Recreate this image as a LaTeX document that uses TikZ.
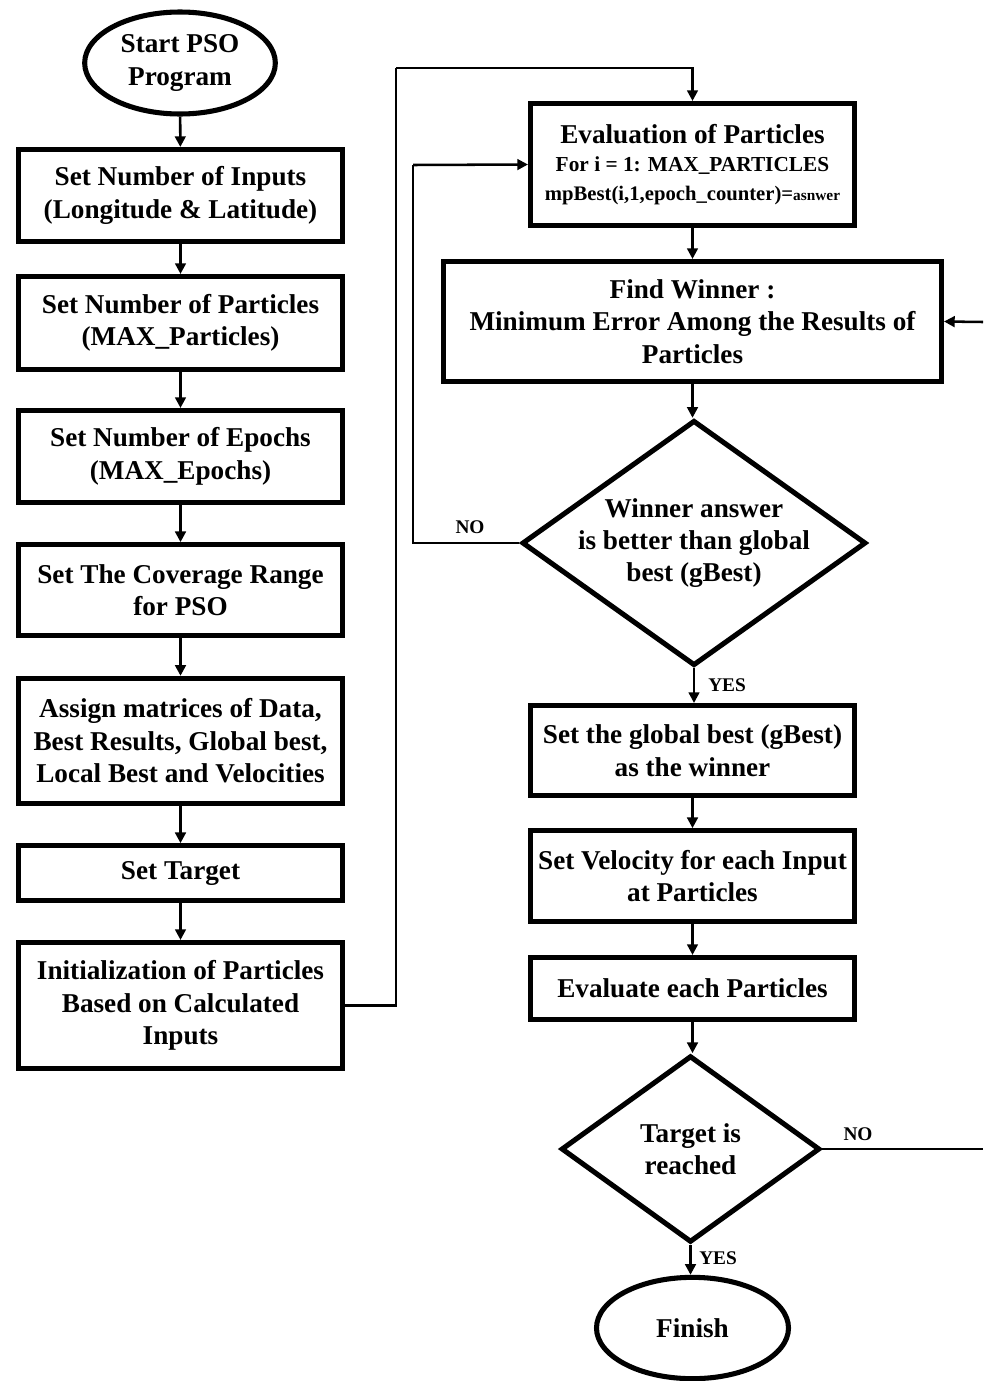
\documentclass[tikz,border=0pt]{standalone}
\usepackage{fontspec}
\setmainfont{Liberation Serif}
\usetikzlibrary{shapes.geometric,arrows.meta}
\begin{document}
\begin{tikzpicture}[x=0.75pt,y=-0.75pt,
  txt/.style={font=\fontsize{20.4}{24.3}\selectfont\bfseries,align=center},
  boxnode/.style={draw,line width=3.8pt,rectangle,txt,inner sep=2pt},
  oval/.style={draw,line width=3.8pt,ellipse,txt,inner sep=0pt},
  decide/.style={draw,line width=3.8pt,diamond,inner sep=0pt},
  arr/.style={line width=1.9pt,-{Triangle[length=8pt,width=8pt]}},
  ln/.style={line width=1.9pt},
  lbl/.style={font=\fontsize{14.5}{16}\selectfont\bfseries,inner sep=0pt}]
\useasboundingbox (0,0) rectangle (983,1381);
% left column
\node[oval,minimum width=143pt,minimum height=76.5pt] (start) at (180,63) {Start PSO\\Program};
\node[boxnode,minimum width=243pt,minimum height=69pt] (b1) at (180.5,195.5) {Set Number of Inputs\\(Longitude \& Latitude)};
\node[boxnode,minimum width=243pt,minimum height=69.75pt] (b2) at (180.5,323) {Set Number of Particles\\(MAX\_Particles)};
\node[boxnode,minimum width=243pt,minimum height=69pt] (b3) at (180.5,456.5) {Set Number of Epochs\\(MAX\_Epochs)};
\node[boxnode,minimum width=243pt,minimum height=68pt] (b4) at (180.5,590) {Set The Coverage Range\\for PSO};
\node[boxnode,minimum width=243pt,minimum height=94pt] (b5) at (180.5,741) {Assign matrices of Data,\\Best Results, Global best,\\Local Best and Velocities};
\node[boxnode,minimum width=243pt,minimum height=41pt] (b6) at (180.5,873) {Set Target};
\node[boxnode,minimum width=243pt,minimum height=94.5pt] (b7) at (180.5,1005.5) {Initialization of Particles\\Based on Calculated\\Inputs};
% right column
\node[boxnode,minimum width=243pt,minimum height=91.5pt] (eval) at (692.5,164.5) {Evaluation of Particles\\[-3pt]{\fontsize{16}{18}\selectfont For i = 1: MAX\_PARTICLES}\\[-3pt]{\fontsize{15.5}{18}\selectfont mpBest(i,1,epoch\_counter)={\fontsize{11.5}{13}\selectfont asnwer}}};
\node[boxnode,minimum width=373.5pt,minimum height=90pt] (find) at (692.5,321.5) {Find Winner :\\Minimum Error Among the Results of\\Particles};
\node[decide,minimum width=258pt,minimum height=184pt,label={[txt]center:Winner answer\\is better than global\\best (gBest)}] (d1) at (694,543) {};
\node[boxnode,minimum width=243pt,minimum height=67.5pt] (gb) at (692.5,750.5) {Set the global best (gBest)\\as the winner};
\node[boxnode,minimum width=243pt,minimum height=68pt] (vel) at (692.5,876) {Set Velocity for each Input\\at Particles};
\node[boxnode,minimum width=243pt,minimum height=46.5pt] (ev) at (692.5,988.5) {Evaluate each Particles};
\node[decide,minimum width=194pt,minimum height=140pt,label={[txt]center:Target is\\reached}] (d2) at (690.5,1149) {};
\node[oval,minimum width=144pt,minimum height=76pt] (fin) at (692.5,1328) {Finish};
% corner coordinates
\coordinate (c1) at (396,68);
\coordinate (c2) at (413,165);
\coordinate (c3) at (983,1149);
\coordinate (c4) at (983,322);
% connectors
\draw[arr] (start) -- (b1);
\draw[arr] (b1) -- (b2);
\draw[arr] (b2) -- (b3);
\draw[arr] (b3) -- (b4);
\draw[arr] (b4) -- (b5);
\draw[arr] (b5) -- (b6);
\draw[arr] (b6) -- (b7);
\draw[ln] (b7.east) -| (c1);
\draw[arr] (c1) -| (eval.north);
\draw[arr] (eval) -- (find);
\draw[arr] (find.south) -- (find.south |- d1.north);
\draw[arr] (d1.south) -- (d1.south |- gb.north);
\draw[ln] (d1.west) -| (c2);
\draw[arr] (c2) -- (eval.west);
\draw[arr] (gb) -- (vel);
\draw[arr] (vel) -- (ev);
\draw[arr] (ev.south) -- (ev.south |- d2.north);
\draw[arr] (d2.south) -- (d2.south |- fin.north);
\draw[ln] (d2.east) -- (c3);
\draw[arr] (c4) -- (find.east);
% labels
\node[lbl] (no1) at (470,527) {NO};
\node[lbl,anchor=west] (yes1) at (708,685) {YES};
\node[lbl] (no2) at (858,1134) {NO};
\node[lbl,anchor=west] (yes2) at (699,1258) {YES};
\end{tikzpicture}
\end{document}
